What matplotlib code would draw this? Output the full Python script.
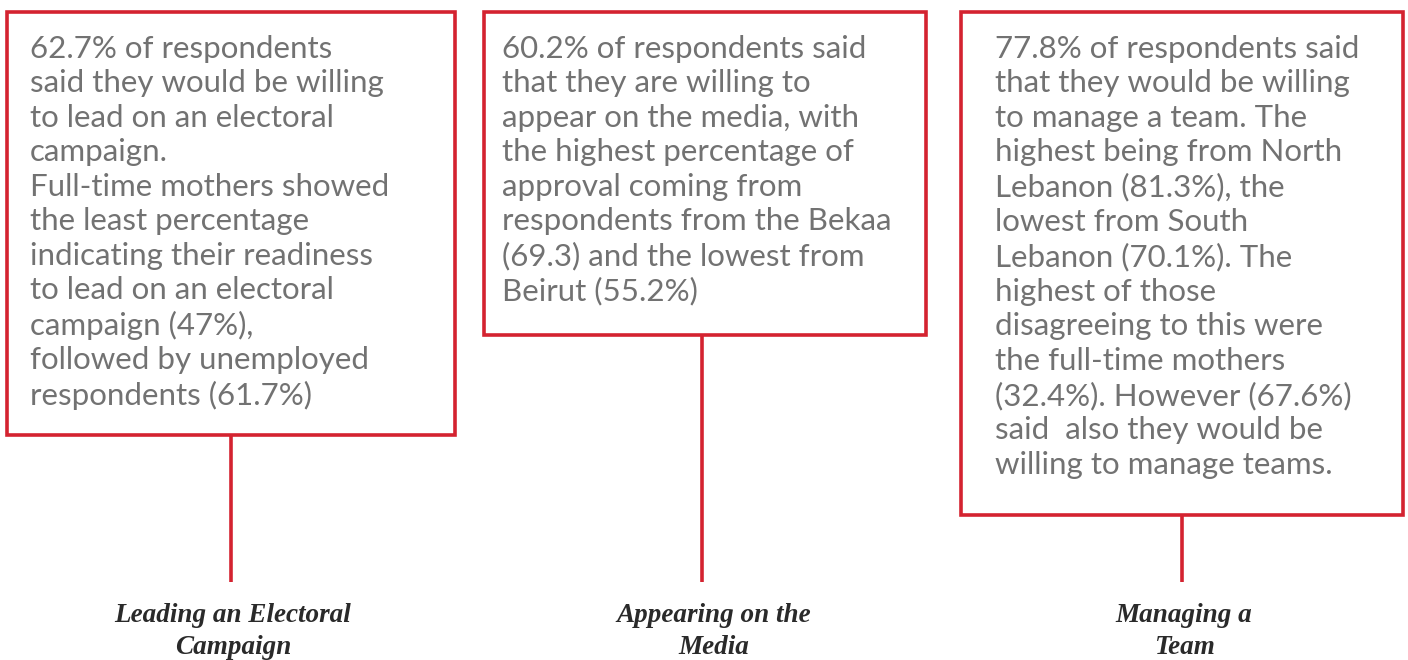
import matplotlib
matplotlib.use("Agg")
import matplotlib.pyplot as plt
from matplotlib.patches import Rectangle

categories = [
    "Leading an Electoral\nCampaign",
    "Appearing on the\nMedia",
    "Managing a\nTeam",
]
descriptions = [
    "62.7% of respondents\nsaid they would be willing\nto lead on an electoral\ncampaign.\n"
    "Full-time mothers showed\nthe least percentage\nindicating their readiness\n"
    "to lead on an electoral\ncampaign (47%),\nfollowed by unemployed\nrespondents (61.7%)",
    "60.2% of respondents said\nthat they are willing to\nappear on the media, with\n"
    "the highest percentage of\napproval coming from\nrespondents from the Bekaa\n"
    "(69.3) and the lowest from\nBeirut (55.2%)",
    "77.8% of respondents said\nthat they would be willing\nto manage a team. The\n"
    "highest being from North\nLebanon (81.3%), the\nlowest from South\n"
    "Lebanon (70.1%). The\nhighest of those\ndisagreeing to this were\n"
    "the full-time mothers\n(32.4%). However (67.6%)\nsaid  also they would be\n"
    "willing to manage teams.",
]

# layout (pixels)
W, H = 1408, 660
box_left = [7, 484, 961]
box_right = [455, 926, 1403]
box_bottom = [435, 335, 515]
box_top = 12
text_x = [30, 502, 995]
conn_x = [231, 702, 1182]
line_end = 582
label_x = [233, 714, 1184]

RED = "#d42330"
GREY = "#727272"

fig = plt.figure(figsize=(W / 100, H / 100), dpi=100)
ax = fig.add_axes([0, 0, 1, 1])
ax.set_xlim(0, W)
ax.set_ylim(H, 0)
ax.axis("off")

for i in range(3):
    l, r, b = box_left[i], box_right[i], box_bottom[i]
    ax.add_patch(Rectangle((l, box_top), r - l, b - box_top, fill=False,
                           edgecolor=RED, linewidth=2.6, joinstyle="miter"))
    ax.plot([conn_x[i], conn_x[i]], [b + 1, line_end], color=RED,
            linewidth=2.6, solid_capstyle="butt")
    ax.text(text_x[i], 35, descriptions[i], ha="left", va="top",
            fontsize=22.5, color=GREY, family="Lato", fontweight="normal",
            linespacing=1.28)
    ax.text(label_x[i], 603, categories[i], ha="center", va="top",
            fontsize=19.5, color="#2a2a2a", family="Liberation Serif",
            fontweight="bold", style="italic", linespacing=1.35)

fig.savefig("out.png", dpi=100, facecolor="white")
